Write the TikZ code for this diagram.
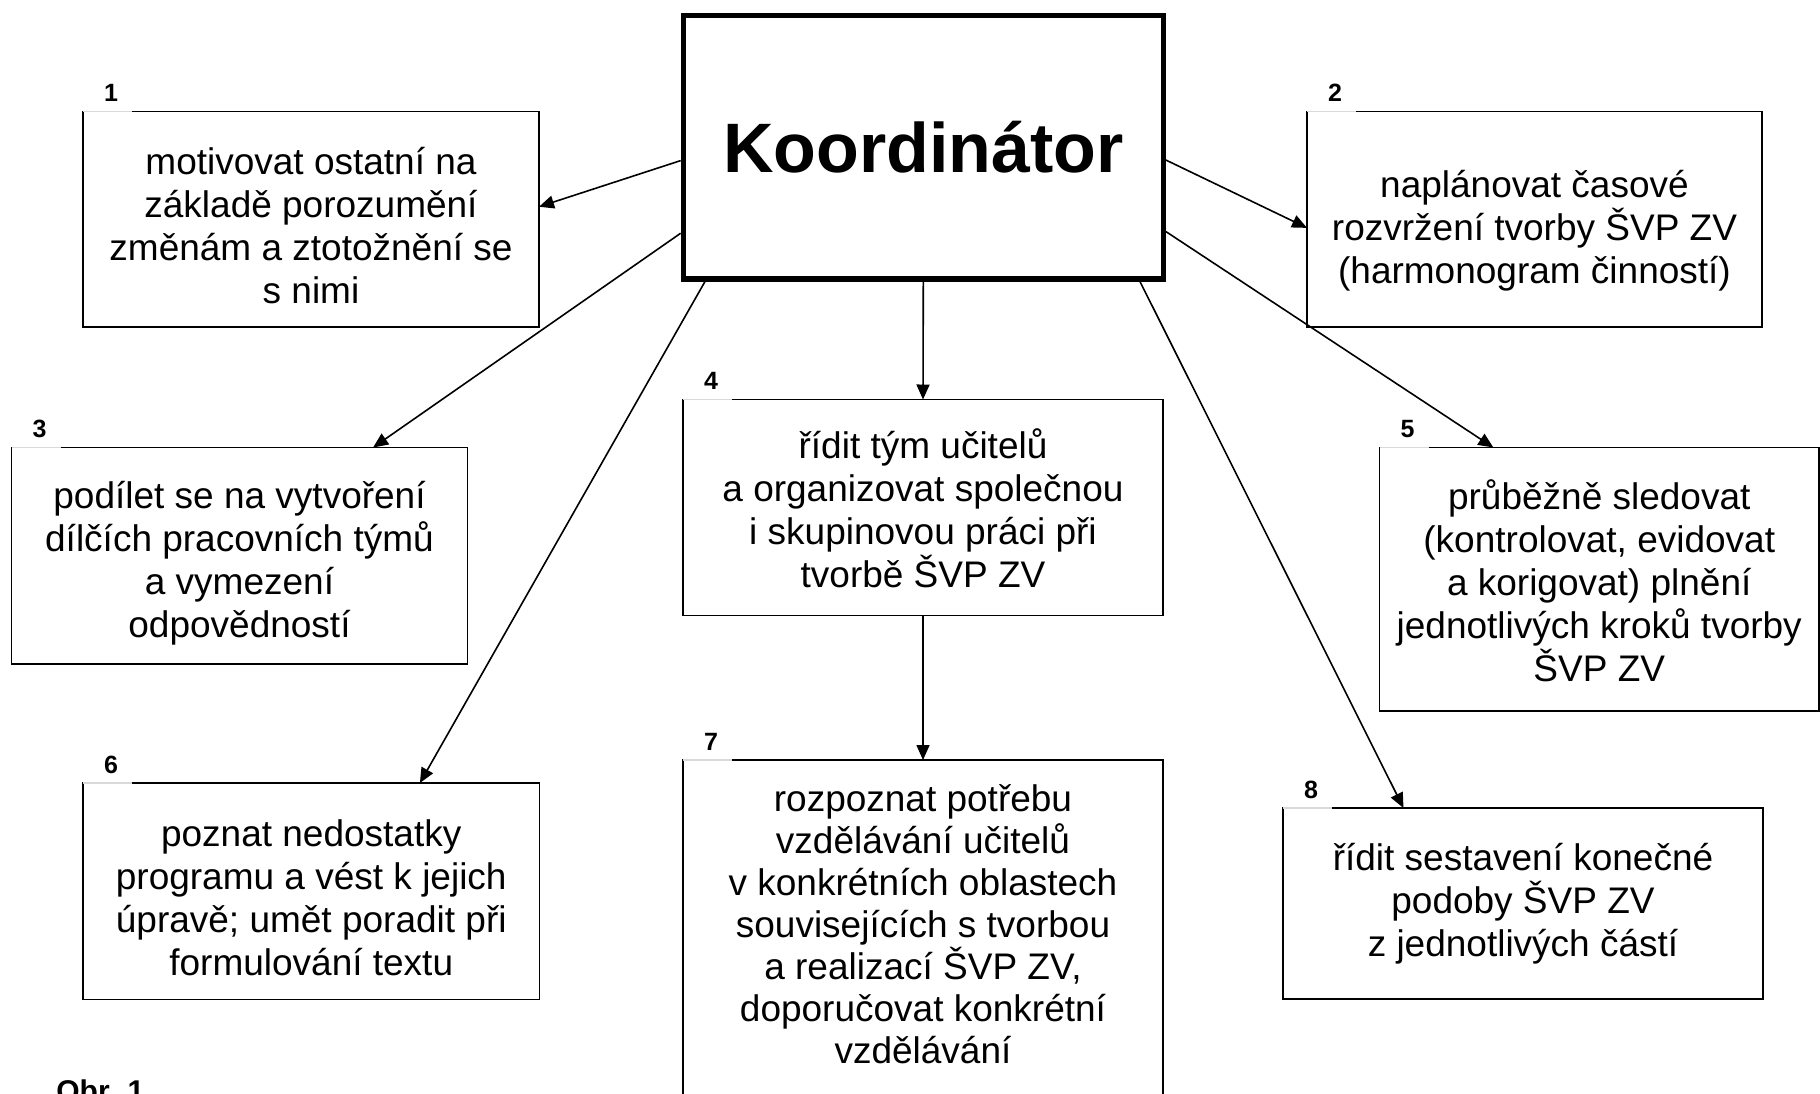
\documentclass[tikz,border=0pt]{standalone}
\usepackage{fontspec}
\setmainfont{Liberation Sans}
\usetikzlibrary{arrows.meta,calc}
\begin{document}
\begin{tikzpicture}[x=0.5pt,y=-0.5pt,
  box/.style={draw, line width=0.8pt, inner sep=0pt, outer sep=0pt},
  txt/.style={inner sep=0pt, align=center, font=\fontsize{18.5}{21.5}\selectfont},
  num/.style={inner sep=0pt, font=\fontsize{12.5}{14}\selectfont\bfseries, anchor=base},
  tabline/.style={draw=gray!30, line width=0.9pt},
  arr/.style={line width=0.8pt, -{Triangle[length=7.5pt,width=6.5pt]}},
  koord/.style={draw, line width=2.65pt, inner sep=0pt, font=\fontsize{35}{40}\selectfont\bfseries}]
\clip (0,0) rectangle (1820,1093);
\fill[white] (0,0) rectangle (1820,1093);

% central node
\node[koord, minimum width=240pt, minimum height=131.85pt] (K) at (923.3,147.15) {Koordinátor};

% boxes
\node[box, minimum width=228pt, minimum height=107.75pt] (b1) at (311,219.25) {};
\node[box, minimum width=227.5pt, minimum height=107.75pt] (b2) at (1534.5,219.25) {};
\node[box, minimum width=228pt, minimum height=108.25pt] (b3) at (239.5,555.75) {};
\node[box, minimum width=240pt, minimum height=108pt] (b4) at (923,507.5) {};
\node[box, minimum width=219.75pt, minimum height=131.75pt] (b5) at (1599.25,579.25) {};
\node[box, minimum width=228.25pt, minimum height=108.25pt] (b6) at (311.25,891.25) {};
\node[box, minimum width=240pt, minimum height=180pt] (b7) at (923,940) {};
\node[box, minimum width=240pt, minimum height=95.5pt] (b8) at (1523,903.5) {};

% box texts
\node[txt] (t1) at ($(b1.center)+(0,6)$)
  {motivovat ostatní na\\základě porozumění\\změnám a ztotožnění se\\s nimi};
\node[txt] (t2) at ($(b2.center)+(0,11)$)
  {naplánovat časové\\rozvržení tvorby ŠVP ZV\\(harmonogram činností)};
\node[txt] (t3) at ($(b3.center)+(0,7)$)
  {podílet se na vytvoření\\dílčích pracovních týmů\\a vymezení\\odpovědností};
\node[txt] (t4) at ($(b4.center)+(0,1)$)
  {řídit tým učitelů\\a organizovat společnou\\i skupinovou práci při\\tvorbě ŠVP ZV};
\node[txt] (t5) at ($(b5.center)+(0,2)$)
  {průběžně sledovat\\(kontrolovat, evidovat\\a korigovat) plnění\\jednotlivých kroků tvorby\\ŠVP ZV};
\node[txt] (t6) at ($(b6.center)+(0,7)$)
  {poznat nedostatky\\programu a vést k jejich\\úpravě; umět poradit při\\formulování textu};
\node[txt, font=\fontsize{18.5}{21}\selectfont] (t7) at (923,924)
  {rozpoznat potřebu\\vzdělávání učitelů\\v konkrétních oblastech\\souvisejících s tvorbou\\a realizací ŠVP ZV,\\doporučovat konkrétní\\vzdělávání};
\node[txt] (t8) at (b8.center)
  {řídit sestavení konečné\\podoby ŠVP ZV\\z jednotlivých částí};

% number tabs
\foreach \b/\n in {b1/1,b2/2,b3/3,b4/4,b5/5,b6/6,b7/7,b8/8}{
  \draw[tabline] (\b.north west) -- ++(49,0);
  \node[num] (n\n) at ($(\b.north west)+(28,-10)$) {\n};
}

% connectors
\draw[arr] ($(K.north west)!0.550!(K.south west)$) -- ($(b1.north east)!0.442!(b1.south east)$);
\draw[arr] ($(K.north east)!0.548!(K.south east)$) -- ($(b2.north west)!0.54!(b2.south west)$);
\draw[arr] ($(K.north west)!0.820!(K.south west)$) -- ($(b3.north west)!0.793!(b3.north east)$);
\draw[arr] (K.south) -- (b4.north);
\draw[arr] ($(K.north east)!0.814!(K.south east)$) -- ($(b5.north west)!0.259!(b5.north east)$);
\draw[arr] ($(K.south west)!0.050!(K.south east)$) -- ($(b6.north west)!0.738!(b6.north east)$);
\draw[arr] (b4.south) -- (b7.north);
\draw[arr] ($(K.south west)!0.9466!(K.south east)$) -- ($(b8.north west)!0.251!(b8.north east)$);

% caption (cut by the page edge, as in the original)
\node[anchor=base west, inner sep=0pt, font=\fontsize{15}{18}\selectfont\bfseries] (obr) at (56,1101.5) {Obr. 1};
\end{tikzpicture}
\end{document}
